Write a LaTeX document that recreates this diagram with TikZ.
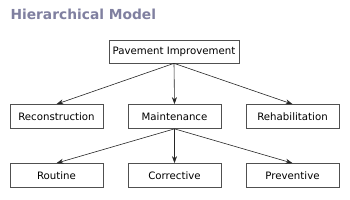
\documentclass[tikz,border=0pt]{standalone}
\usepackage{fontspec}
\setmainfont{DejaVu Sans}
\usetikzlibrary{arrows.meta}
\definecolor{titlegray}{RGB}{128,128,160}
\definecolor{boxline}{RGB}{80,80,80}

\begin{document}
\begin{tikzpicture}[x=1pt, y=1pt,
    box/.style={draw=boxline, line width=0.7pt, fill=white, minimum height=24pt,
        minimum width=93pt, inner sep=1pt, font=\fontsize{10.2}{11}\selectfont},
    link/.style={-{Stealth[length=7pt, width=5pt]}, draw=black!85, line width=0.6pt}]
                \useasboundingbox (0,0) rectangle (350,200);

                \node[anchor=west, text=titlegray, font=\bfseries\fontsize{13.8}{15}\selectfont] (title) at (7,186) {Hierarchical Model};

                \node[box, minimum width=130pt, minimum height=23pt] (root) at (174,148.5) {Pavement Improvement};

                \node[box] (recon) at (56.5,83.5) {Reconstruction};
                \node[box] (maint) at (174.5,83.5) {Maintenance};
                \node[box] (rehab) at (292.5,83.5) {Rehabilitation};

                \node[box] (routine) at (56.5,24.5) {Routine};
                \node[box] (correct) at (174.5,24.5) {Corrective};
                \node[box] (prevent) at (292.5,24.5) {Preventive};

                \draw[link] (root.south) -- (recon.north);
                \draw[link] (root.south) -- (maint.north);
                \draw[link] (root.south) -- (rehab.north);

                \draw[link] (maint.south) -- (routine.north);
                \draw[link] (maint.south) -- (correct.north);
                \draw[link] (maint.south) -- (prevent.north);
            \end{tikzpicture}
\end{document}
